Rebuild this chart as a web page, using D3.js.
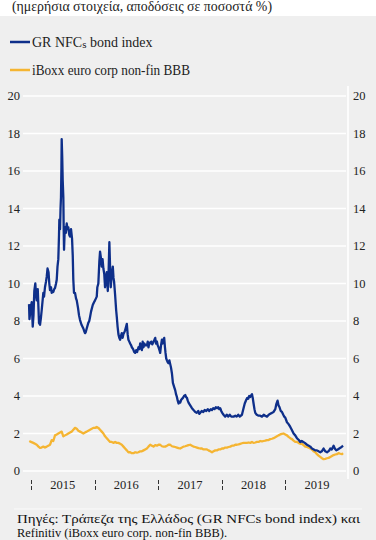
<!DOCTYPE html>
<html>
<head>
<meta charset="utf-8">
<script src="https://cdn.jsdelivr.net/npm/d3@7"></script>
<style>
  body { margin: 0; background: #fff; }
</style>
</head>
<body>
<svg id="chart"></svg>
<script>
// time is in fractional years, values in %
const grNfcs = [
  [2014.969, 8.9], [2014.976, 8.1], [2014.992, 8.6], [2015.011, 9.0], [2015.027, 7.7], [2015.039, 8.3],
  [2015.052, 9.6], [2015.068, 10.0], [2015.079, 9.4], [2015.090, 9.1], [2015.106, 9.7], [2015.115, 8.9],
  [2015.126, 7.9], [2015.142, 7.8], [2015.157, 8.2], [2015.169, 8.6], [2015.194, 9.5], [2015.205, 9.3],
  [2015.220, 9.8], [2015.236, 10.1], [2015.247, 10.35], [2015.260, 10.8], [2015.276, 10.6], [2015.288, 10.0],
  [2015.299, 9.65], [2015.315, 9.8], [2015.326, 9.5], [2015.339, 9.6], [2015.351, 9.55], [2015.365, 9.7],
  [2015.378, 9.76], [2015.394, 10.0], [2015.405, 10.2], [2015.417, 10.9], [2015.430, 11.3], [2015.441, 12.6],
  [2015.446, 13.4], [2015.457, 12.9], [2015.465, 14.0], [2015.472, 14.6], [2015.479, 16.2], [2015.483, 17.7],
  [2015.491, 16.8], [2015.499, 15.5], [2015.509, 14.6], [2015.515, 12.8], [2015.520, 11.8], [2015.528, 12.6],
  [2015.535, 13.0], [2015.548, 12.7], [2015.562, 13.2], [2015.575, 12.9], [2015.587, 13.0], [2015.602, 12.6],
  [2015.614, 12.5], [2015.630, 12.9], [2015.646, 12.4], [2015.657, 11.5], [2015.666, 10.2], [2015.677, 9.5],
  [2015.693, 9.5], [2015.709, 9.2], [2015.720, 9.1], [2015.740, 8.7], [2015.756, 8.3], [2015.772, 8.05],
  [2015.795, 7.8], [2015.824, 7.6], [2015.839, 7.45], [2015.850, 7.35], [2015.861, 7.4], [2015.877, 7.6],
  [2015.902, 7.9], [2015.917, 8.0], [2015.929, 8.2], [2015.945, 8.5], [2015.972, 8.85], [2015.992, 9.0],
  [2016.008, 9.1], [2016.035, 9.3], [2016.044, 9.8], [2016.060, 10.0], [2016.076, 11.2], [2016.087, 11.7],
  [2016.099, 11.4], [2016.113, 10.9], [2016.126, 11.3], [2016.139, 10.8], [2016.153, 10.5], [2016.165, 9.8],
  [2016.181, 10.3], [2016.192, 10.6], [2016.208, 9.6], [2016.220, 10.5], [2016.233, 12.2], [2016.244, 10.9],
  [2016.255, 9.8], [2016.268, 10.4], [2016.287, 10.9], [2016.298, 10.3], [2016.307, 10.1], [2016.323, 9.4],
  [2016.339, 8.6], [2016.350, 8.2], [2016.362, 7.7], [2016.375, 7.3], [2016.389, 7.1], [2016.402, 7.0],
  [2016.414, 7.2], [2016.428, 7.35], [2016.441, 7.1], [2016.454, 7.3], [2016.468, 7.4], [2016.480, 7.5],
  [2016.496, 7.7], [2016.507, 7.85], [2016.520, 7.3], [2016.532, 7.0], [2016.546, 6.9], [2016.559, 6.8],
  [2016.575, 6.7], [2016.586, 6.6], [2016.606, 6.5], [2016.622, 6.35], [2016.638, 6.3], [2016.654, 6.45],
  [2016.669, 6.35], [2016.690, 6.6], [2016.704, 6.5], [2016.717, 6.8], [2016.732, 6.6], [2016.743, 6.45],
  [2016.756, 6.9], [2016.769, 6.6], [2016.783, 6.8], [2016.795, 6.7], [2016.822, 6.7], [2016.835, 6.9],
  [2016.847, 6.6], [2016.861, 6.85], [2016.874, 6.8], [2016.890, 6.9], [2016.906, 6.75], [2016.926, 6.9],
  [2016.940, 7.0], [2016.953, 7.1], [2016.965, 6.8], [2016.980, 6.9], [2016.992, 6.7], [2017.005, 6.6],
  [2017.019, 6.45], [2017.031, 6.3], [2017.044, 6.7], [2017.058, 7.0], [2017.071, 6.8], [2017.083, 7.0],
  [2017.094, 7.1], [2017.106, 6.6], [2017.115, 6.3], [2017.126, 6.0], [2017.137, 5.9], [2017.150, 5.8],
  [2017.162, 5.75], [2017.176, 5.9], [2017.189, 5.7], [2017.202, 5.5], [2017.216, 5.2], [2017.231, 4.7],
  [2017.249, 4.5], [2017.268, 4.3], [2017.280, 4.1], [2017.294, 3.95], [2017.307, 3.75], [2017.320, 3.6],
  [2017.334, 3.7], [2017.346, 3.65], [2017.362, 3.8], [2017.389, 3.9], [2017.406, 4.0], [2017.425, 4.05],
  [2017.438, 3.95], [2017.452, 3.9], [2017.465, 3.75], [2017.477, 3.65], [2017.504, 3.5], [2017.531, 3.35],
  [2017.556, 3.25], [2017.583, 3.15], [2017.606, 3.1], [2017.630, 3.2], [2017.646, 3.05], [2017.661, 3.1],
  [2017.685, 3.2], [2017.709, 3.15], [2017.732, 3.25], [2017.756, 3.2], [2017.780, 3.3], [2017.803, 3.2],
  [2017.827, 3.3], [2017.846, 3.25], [2017.866, 3.35], [2017.887, 3.3], [2017.906, 3.4], [2017.924, 3.35],
  [2017.945, 3.4], [2017.961, 3.3], [2017.976, 3.35], [2017.992, 3.2], [2018.008, 3.1], [2018.028, 3.0],
  [2018.055, 2.9], [2018.079, 3.0], [2018.102, 2.9], [2018.126, 3.0], [2018.150, 2.9], [2018.186, 2.9],
  [2018.213, 2.95], [2018.236, 2.9], [2018.260, 3.0], [2018.283, 2.9], [2018.318, 3.0], [2018.343, 3.35],
  [2018.362, 3.6], [2018.386, 3.8], [2018.402, 3.9], [2018.417, 3.85], [2018.433, 4.0], [2018.449, 3.95],
  [2018.465, 4.05], [2018.476, 4.1], [2018.488, 3.9], [2018.501, 3.6], [2018.515, 3.3], [2018.528, 3.1],
  [2018.551, 3.0], [2018.580, 2.95], [2018.606, 2.95], [2018.633, 2.9], [2018.661, 3.0], [2018.685, 2.95],
  [2018.712, 2.9], [2018.740, 3.0], [2018.764, 3.05], [2018.791, 3.1], [2018.816, 3.15], [2018.843, 3.3],
  [2018.858, 3.55], [2018.879, 3.75], [2018.894, 3.5], [2018.910, 3.4], [2018.929, 3.2], [2018.948, 3.15],
  [2018.969, 3.0], [2018.984, 2.9], [2019.000, 2.85], [2019.027, 2.6], [2019.052, 2.5], [2019.079, 2.35],
  [2019.102, 2.2], [2019.131, 2.0], [2019.157, 1.9], [2019.184, 1.75], [2019.213, 1.65], [2019.236, 1.55],
  [2019.260, 1.6], [2019.283, 1.55], [2019.307, 1.5], [2019.342, 1.4], [2019.370, 1.35], [2019.394, 1.3],
  [2019.420, 1.2], [2019.449, 1.15], [2019.472, 1.1], [2019.499, 1.1], [2019.524, 1.05], [2019.551, 1.0],
  [2019.575, 1.05], [2019.603, 1.2], [2019.630, 1.05], [2019.657, 1.0], [2019.677, 1.05], [2019.693, 1.1],
  [2019.709, 1.2], [2019.732, 1.15], [2019.761, 1.35], [2019.780, 1.2], [2019.803, 1.1], [2019.827, 1.15],
  [2019.850, 1.2], [2019.874, 1.25], [2019.893, 1.3], [2019.909, 1.35]
];

const iboxx = [
  [2014.973, 1.6], [2015.000, 1.55], [2015.036, 1.5], [2015.063, 1.45], [2015.090, 1.4], [2015.118, 1.3],
  [2015.142, 1.23], [2015.165, 1.25], [2015.194, 1.3], [2015.220, 1.25], [2015.247, 1.3], [2015.272, 1.35],
  [2015.299, 1.4], [2015.326, 1.65], [2015.351, 1.6], [2015.378, 1.9], [2015.405, 1.95], [2015.430, 2.0],
  [2015.457, 2.05], [2015.483, 2.1], [2015.509, 1.85], [2015.535, 1.9], [2015.562, 1.95], [2015.587, 2.0],
  [2015.614, 2.05], [2015.641, 2.1], [2015.666, 2.2], [2015.693, 2.3], [2015.720, 2.25], [2015.745, 2.15],
  [2015.772, 2.1], [2015.798, 2.05], [2015.824, 2.0], [2015.850, 2.05], [2015.877, 2.1], [2015.902, 2.15],
  [2015.929, 2.2], [2015.956, 2.25], [2015.981, 2.3], [2016.008, 2.3], [2016.035, 2.35], [2016.060, 2.3],
  [2016.087, 2.2], [2016.113, 2.1], [2016.139, 2.0], [2016.165, 1.85], [2016.192, 1.75], [2016.217, 1.65],
  [2016.244, 1.55], [2016.271, 1.55], [2016.296, 1.5], [2016.323, 1.55], [2016.350, 1.5], [2016.375, 1.5],
  [2016.402, 1.45], [2016.428, 1.4], [2016.454, 1.3], [2016.480, 1.2], [2016.507, 1.1], [2016.532, 1.0],
  [2016.559, 1.0], [2016.586, 0.95], [2016.611, 0.95], [2016.638, 1.0], [2016.665, 0.98], [2016.690, 1.0],
  [2016.717, 1.05], [2016.743, 1.05], [2016.769, 1.1], [2016.795, 1.15], [2016.822, 1.2], [2016.847, 1.3],
  [2016.874, 1.4], [2016.901, 1.35], [2016.926, 1.3], [2016.953, 1.38], [2016.980, 1.35], [2017.005, 1.4],
  [2017.031, 1.4], [2017.058, 1.32], [2017.083, 1.3], [2017.110, 1.3], [2017.137, 1.35], [2017.162, 1.4],
  [2017.189, 1.4], [2017.216, 1.32], [2017.241, 1.3], [2017.268, 1.28], [2017.294, 1.25], [2017.320, 1.22],
  [2017.346, 1.2], [2017.373, 1.25], [2017.398, 1.3], [2017.425, 1.32], [2017.452, 1.35], [2017.477, 1.38],
  [2017.504, 1.4], [2017.531, 1.35], [2017.556, 1.3], [2017.583, 1.28], [2017.609, 1.25], [2017.635, 1.22],
  [2017.661, 1.2], [2017.688, 1.2], [2017.713, 1.15], [2017.740, 1.15], [2017.767, 1.15], [2017.792, 1.1],
  [2017.819, 1.05], [2017.846, 1.0], [2017.871, 1.05], [2017.898, 1.1], [2017.924, 1.1], [2017.950, 1.15],
  [2017.976, 1.15], [2018.003, 1.2], [2018.028, 1.2], [2018.055, 1.25], [2018.082, 1.25], [2018.107, 1.28],
  [2018.134, 1.3], [2018.161, 1.35], [2018.186, 1.35], [2018.213, 1.4], [2018.239, 1.4], [2018.265, 1.42],
  [2018.291, 1.45], [2018.318, 1.48], [2018.343, 1.5], [2018.370, 1.5], [2018.397, 1.5], [2018.422, 1.52],
  [2018.449, 1.5], [2018.476, 1.55], [2018.501, 1.5], [2018.528, 1.52], [2018.554, 1.55], [2018.580, 1.55],
  [2018.606, 1.6], [2018.633, 1.58], [2018.658, 1.6], [2018.685, 1.62], [2018.712, 1.65], [2018.737, 1.65],
  [2018.764, 1.7], [2018.791, 1.72], [2018.816, 1.75], [2018.843, 1.8], [2018.869, 1.85], [2018.894, 1.9],
  [2018.921, 1.95], [2018.948, 1.98], [2018.973, 2.0], [2019.000, 1.95], [2019.027, 1.9], [2019.052, 1.82],
  [2019.079, 1.75], [2019.106, 1.7], [2019.131, 1.62], [2019.157, 1.55], [2019.184, 1.55], [2019.209, 1.5],
  [2019.236, 1.45], [2019.263, 1.45], [2019.288, 1.38], [2019.315, 1.3], [2019.342, 1.28], [2019.367, 1.25],
  [2019.394, 1.2], [2019.420, 1.15], [2019.446, 1.05], [2019.472, 1.0], [2019.499, 0.9], [2019.524, 0.82],
  [2019.551, 0.75], [2019.578, 0.68], [2019.603, 0.63], [2019.630, 0.65], [2019.657, 0.68], [2019.682, 0.7],
  [2019.709, 0.75], [2019.735, 0.8], [2019.761, 0.85], [2019.787, 0.88], [2019.813, 0.9], [2019.839, 0.95],
  [2019.866, 0.92], [2019.893, 0.9], [2019.909, 0.95]
];

const seriesNames = ["GR NFCs bond index", "iBoxx euro corp non-fin BBB"];
const yTicks = [0, 2, 4, 6, 8, 10, 12, 14, 16, 18, 20];
const years = [2015, 2016, 2017, 2018, 2019];
const title = "(ημερήσια στοιχεία, αποδόσεις σε ποσοστά %)";
const sourceLines = [
  "Πηγές: Τράπεζα της Ελλάδος (GR NFCs bond index) και",
  "Refinitiv (iBoxx euro corp. non-fin BBB)."
];

const W = 376, H = 540;
const blue = "#0e2f8a", orange = "#f5b532", panel = "#efefef";
const font = "'Liberation Serif', 'DejaVu Serif', serif";
const plot = {left: 23, right: 346, top: 96, bottom: 471};

// fractional year -> Date
function toDate(fy) {
  const y = Math.floor(fy);
  const s = new Date(y, 0, 1), e = new Date(y + 1, 0, 1);
  return new Date(+s + (fy - y) * (e - s));
}

const svg = d3.select("#chart")
  .attr("width", W).attr("height", H)
  .style("font-family", font);

svg.append("rect").attr("x", 0).attr("y", 16).attr("width", W).attr("height", H - 16).attr("fill", panel);

svg.append("text")
  .attr("x", 12).attr("y", 11)
  .attr("font-size", 14).attr("fill", "#222")
  .attr("textLength", 260).attr("lengthAdjust", "spacingAndGlyphs")
  .text(title);

const x = d3.scaleTime()
  .domain([new Date(2014, 10, 16), new Date(2019, 11, 16)])
  .range([plot.left, plot.right]);

const y = d3.scaleLinear().domain([0, 20]).range([plot.bottom, plot.top]);

// grid
svg.append("g").selectAll("line")
  .data(yTicks)
  .join("line")
  .attr("x1", plot.left).attr("x2", plot.right)
  .attr("y1", d => y(d)).attr("y2", d => y(d))
  .attr("stroke", "#fff").attr("stroke-width", 1.6);

svg.append("line")
  .attr("x1", plot.right + 2).attr("x2", plot.right + 2)
  .attr("y1", plot.top - 10).attr("y2", plot.bottom + 8)
  .attr("stroke", "#fff").attr("stroke-width", 1.6);

// y labels both sides
const yl = svg.append("g").attr("font-size", 12.5).attr("fill", "#222");
yl.selectAll("text.l")
  .data(yTicks)
  .join("text")
  .attr("class", "l")
  .attr("x", 20).attr("y", d => y(d) + 4)
  .attr("text-anchor", "end")
  .text(d => d);
yl.selectAll("text.r")
  .data(yTicks)
  .join("text")
  .attr("class", "r")
  .attr("x", plot.right + 7).attr("y", d => y(d) + 4)
  .text(d => d);

// x: broken-bar separators at year starts, labels mid-year
const xl = svg.append("g");
years.forEach(d => {
  const tx = Math.round(x(new Date(d, 0, 1))) + 0.5;
  [[480, 484], [486, 490]].forEach(([a, b]) => {
    xl.append("line")
      .attr("x1", tx).attr("x2", tx).attr("y1", a).attr("y2", b)
      .attr("stroke", "#333").attr("stroke-width", 1);
  });
});
xl.selectAll("text")
  .data(years)
  .join("text")
  .attr("x", d => (x(new Date(d, 0, 1)) + x(new Date(d + 1, 0, 1))) / 2)
  .attr("y", 489)
  .attr("text-anchor", "middle")
  .attr("font-size", 12.5).attr("fill", "#222")
  .text(d => d);

// lines
const line = d3.line()
  .x(d => x(toDate(d[0])))
  .y(d => y(d[1]));

svg.append("path")
  .datum(iboxx)
  .attr("d", line)
  .attr("fill", "none")
  .attr("stroke", orange)
  .attr("stroke-width", 2.3)
  .attr("stroke-linejoin", "round");

svg.append("path")
  .datum(grNfcs)
  .attr("d", line)
  .attr("fill", "none")
  .attr("stroke", blue)
  .attr("stroke-width", 2.3)
  .attr("stroke-linejoin", "round");

// legend
const legend = svg.append("g").attr("font-size", 14).attr("fill", "#222");
[blue, orange].forEach((c, i) => {
  const ly = 42 + i * 28;
  legend.append("line")
    .attr("x1", 10).attr("x2", 30).attr("y1", ly).attr("y2", ly)
    .attr("stroke", c).attr("stroke-width", 2.5);
  const t = legend.append("text").attr("x", 32).attr("y", ly + 5);
  if (i === 0) {
    t.append("tspan").text("GR NFC");
    t.append("tspan").attr("font-size", 11).attr("dy", 1).text("s");
    t.append("tspan").attr("dy", -1).text(" bond index");
  } else {
    t.attr("textLength", 158).attr("lengthAdjust", "spacingAndGlyphs").text(seriesNames[1]);
  }
});

// source
svg.append("line")
  .attr("x1", 14).attr("x2", 362).attr("y1", 509).attr("y2", 509)
  .attr("stroke", "#fafafa").attr("stroke-width", 1);

const srcWidths = [343, 210];
const src = svg.append("g").attr("font-size", 12.5).attr("fill", "#111");
src.selectAll("text")
  .data(sourceLines)
  .join("text")
  .attr("x", 17)
  .attr("y", (d, i) => 523 + i * 14)
  .attr("textLength", (d, i) => srcWidths[i])
  .attr("lengthAdjust", "spacingAndGlyphs")
  .text(d => d);
</script>
</body>
</html>
